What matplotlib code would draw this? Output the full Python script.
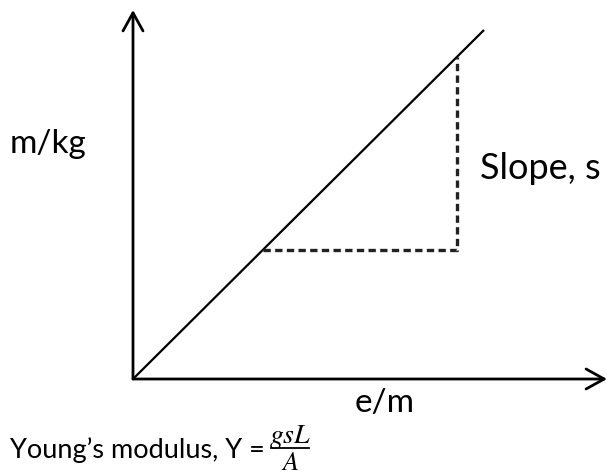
"""
Sketch of mass vs extension for a Young's modulus experiment:
straight line through the origin with the slope triangle marked.
"""
import matplotlib
matplotlib.use("Agg")
import matplotlib.pyplot as plt
from matplotlib.lines import Line2D

# data (arbitrary units, origin of the graph at 0,0)
AXIS_X_END = 4.74          # length of the e/m axis
AXIS_Y_END = 3.69          # length of the m/kg axis
line_e = [0.0, 3.51]
line_m = [0.0, 3.49]
tri_e = [1.30, 3.24, 3.24]     # slope triangle corners, on the line
tri_m = [1.29, 1.29, 3.22]

X_LABEL = "e/m"
Y_LABEL = "m/kg"
SLOPE_LABEL = "Slope, s"
FORMULA = "Young\u2019s modulus, Y ="
NUMERATOR = r"$gsL$"
DENOMINATOR = r"$A$"

W, H = 607, 475
FONT = ["Lato", "DejaVu Sans"]

plt.rcParams.update({
    "font.family": FONT,
    "mathtext.fontset": "stix",
    "figure.facecolor": "white",
})

fig = plt.figure(figsize=(W / 100, H / 100), dpi=100)
# origin at pixel (133, 379), 100 px per unit
ax = fig.add_axes([133 / W, (H - 379) / H, 474 / W, 369 / H])
ax.set_xlim(0, AXIS_X_END)
ax.set_ylim(0, AXIS_Y_END)
ax.axis("off")

# axes with open arrow heads
arrow_kw = dict(arrowstyle="->,head_length=0.65,head_width=0.36",
                lw=2.0, color="black", shrinkA=0, shrinkB=0,
                mutation_scale=20)
ax.annotate("", xy=(0, AXIS_Y_END), xytext=(0, 0),
            arrowprops=arrow_kw, annotation_clip=False)
ax.annotate("", xy=(AXIS_X_END, 0), xytext=(0, 0),
            arrowprops=arrow_kw, annotation_clip=False)

ax.plot(line_e, line_m, color="black", lw=1.6, solid_capstyle="butt",
        clip_on=False)
ax.plot(tri_e, tri_m, color="#222222", lw=2.4, ls=(0, (2.2, 1.3)),
        clip_on=False)


# labels, positioned in figure pixels
def put(x, y, s, size, ha="left", **kw):
    fig.text(x / W, 1 - y / H, s, fontsize=size, va="baseline", ha=ha, **kw)


put(10, 153, Y_LABEL, 24)
put(480, 179, SLOPE_LABEL, 26)
put(355, 412, X_LABEL, 24)
put(10, 458, FORMULA, 19.5)

# g s L over A, drawn as a built-up fraction
put(290, 443, NUMERATOR, 20, ha="center")
put(290, 470, DENOMINATOR, 19, ha="center")
fig.add_artist(Line2D([271 / W, 309 / W], [1 - 448 / H, 1 - 448 / H],
                      color="black", lw=1.3))

fig.savefig("out.png", dpi=100)
